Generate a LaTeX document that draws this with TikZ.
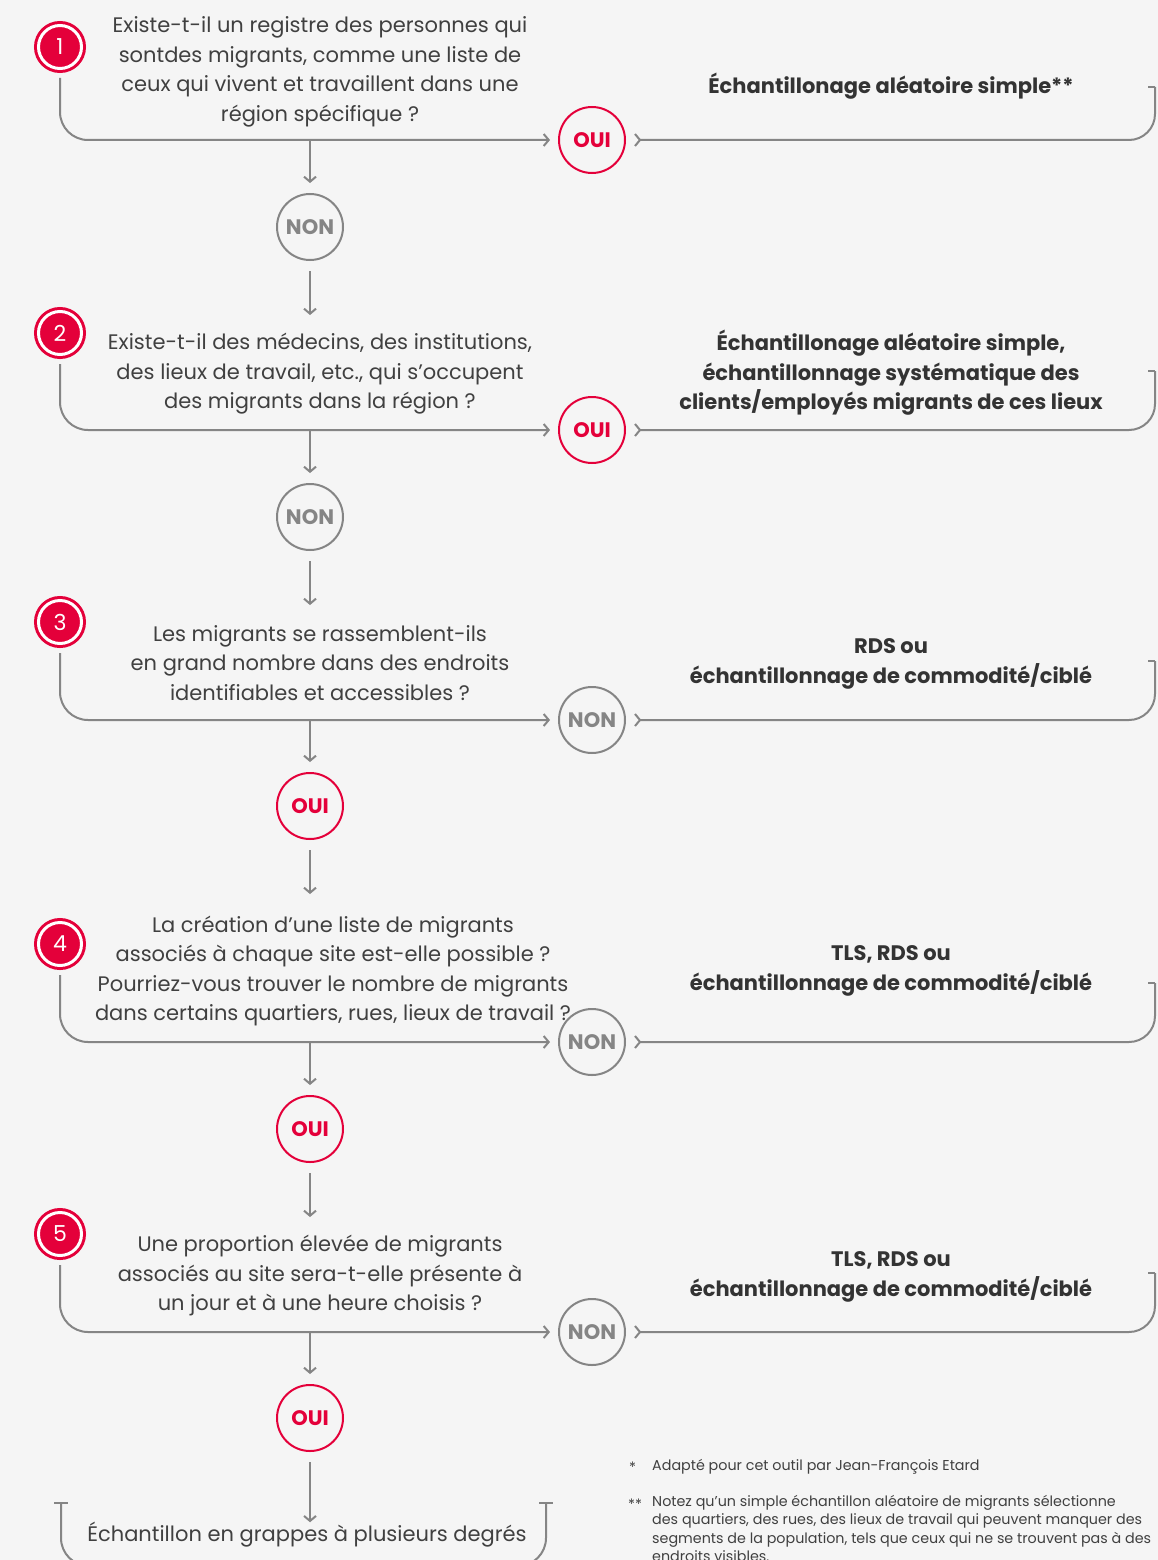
\documentclass[tikz,border=0pt]{standalone}
\usepackage{fontspec}
\setmainfont{Poppins}
\usetikzlibrary{arrows.meta,calc}
\definecolor{bg}{HTML}{F5F5F5}
\definecolor{redc}{HTML}{E4003A}
\definecolor{linec}{HTML}{858585}
\definecolor{txt}{HTML}{404040}
\definecolor{txtb}{HTML}{333333}
\tikzset{
  numc/.style={circle, fill=redc, draw=redc, double=white, double distance=3pt, line width=3pt,
    minimum size=43pt, inner sep=0pt, text=white, font=\fontsize{22}{22}\selectfont},
  yesc/.style={circle, draw=redc, line width=2pt, minimum size=66pt, inner sep=0pt, text=redc,
    font=\bfseries\fontsize{21}{21}\selectfont},
  noc/.style={circle, draw=linec, line width=2pt, minimum size=66pt, inner sep=0pt, text=linec,
    font=\bfseries\fontsize{21}{21}\selectfont},
  qtext/.style={align=center, text=txt, inner sep=0pt, font=\fontsize{21}{29.5}\selectfont},
  rtext/.style={align=center, text=txtb, inner sep=0pt, font=\bfseries\fontsize{21}{29.5}\selectfont},
  fn/.style={align=left, text=txt, inner sep=0pt, font=\fontsize{14.3}{18.5}\selectfont},
  conn/.style={draw=linec, line width=2pt},
  arr/.style={conn, -{Straight Barb[length=5pt,width=12pt]}},
  outc/.style={conn, {Straight Barb[reversed,length=5pt,width=12pt]}-},
}
\begin{document}
\begin{tikzpicture}[x=1pt,y=-1pt]
\fill[bg] (0,0) rectangle (1158,1560);
\useasboundingbox (0,0) rectangle (1158,1560);

% ---------- Row 1
\node[numc] (n1) at (60,47) {1};
\node[qtext] (q1) at (320,72) {Existe-t-il un registre des personnes qui\\sontdes migrants, comme une liste de\\ceux qui vivent et travaillent dans une\\région spécifique ?};
\node[yesc] (c1) at (592,140) {OUI};
\node[rtext] (r1) at (891,86) {Échantillonage aléatoire simple**};
\coordinate (t1) at (1155,87);
\draw[arr, rounded corners=28pt, shorten <=8pt, shorten >=8pt] (n1.south) |- (c1.west);
\draw[outc, rounded corners=26pt] ($(c1.east)+(8,0)$) -| (t1);
\draw[conn] (t1) -- ++(-7,0);
\node[noc] (d1) at (310,227) {NON};
\draw[arr, shorten >=10pt] (d1.north |- c1) -- (d1.north);
\coordinate (e1) at (310,315);
\draw[arr, shorten <=10pt] (d1.south) -- (e1);

% ---------- Row 2
\node[numc] (n2) at (60,333) {2};
\node[qtext] (q2) at (320,374) {Existe-t-il des médecins, des institutions,\\des lieux de travail, etc., qui s’occupent\\des migrants dans la région ?};
\node[yesc] (c2) at (592,430) {OUI};
\node[rtext] (r2) at (891,373) {Échantillonage aléatoire simple,\\échantillonnage systématique des\\clients/employés migrants de ces lieux};
\coordinate (t2) at (1155,371);
\draw[arr, rounded corners=28pt, shorten <=8pt, shorten >=8pt] (n2.south) |- (c2.west);
\draw[outc, rounded corners=26pt] ($(c2.east)+(8,0)$) -| (t2);
\draw[conn] (t2) -- ++(-7,0);
\node[noc] (d2) at (310,517) {NON};
\draw[arr, shorten >=10pt] (d2.north |- c2) -- (d2.north);
\coordinate (e2) at (310,605);
\draw[arr, shorten <=10pt] (d2.south) -- (e2);

% ---------- Row 3
\node[numc] (n3) at (60,622) {3};
\node[qtext] (q3) at (320,663) {Les migrants se rassemblent-ils\\en grand nombre dans des endroits\\identifiables et accessibles ?};
\node[noc] (c3) at (592,720) {NON};
\node[rtext] (r3) at (891,664) {RDS ou\\échantillonnage de commodité/ciblé};
\coordinate (t3) at (1155,661);
\draw[arr, rounded corners=28pt, shorten <=8pt, shorten >=8pt] (n3.south) |- (c3.west);
\draw[outc, rounded corners=26pt] ($(c3.east)+(8,0)$) -| (t3);
\draw[conn] (t3) -- ++(-7,0);
\node[yesc] (d3) at (310,806) {OUI};
\draw[arr, shorten >=10pt] (d3.north |- c3) -- (d3.north);
\coordinate (e3) at (310,894);
\draw[arr, shorten <=10pt] (d3.south) -- (e3);

% ---------- Row 4
\node[numc] (n4) at (60,944) {4};
\node[qtext] (q4) at (333,971) {La création d’une liste de migrants\\associés à chaque site est-elle possible ?\\Pourriez-vous trouver le nombre de migrants\\dans certains quartiers, rues, lieux de travail ?};
\node[noc] (c4) at (592,1042) {NON};
\node[rtext] (r4) at (891,971) {TLS, RDS ou\\échantillonnage de commodité/ciblé};
\coordinate (t4) at (1155,983);
\draw[arr, rounded corners=28pt, shorten <=8pt, shorten >=8pt] (n4.south) |- (c4.west);
\draw[outc, rounded corners=26pt] ($(c4.east)+(8,0)$) -| (t4);
\draw[conn] (t4) -- ++(-7,0);
\node[yesc] (d4) at (310,1129) {OUI};
\draw[arr, shorten >=10pt] (d4.north |- c4) -- (d4.north);
\coordinate (e4) at (310,1217);
\draw[arr, shorten <=10pt] (d4.south) -- (e4);

% ---------- Row 5
\node[numc] (n5) at (60,1234) {5};
\node[qtext] (q5) at (320,1276) {Une proportion élevée de migrants\\associés au site sera-t-elle présente à\\un jour et à une heure choisis ?};
\node[noc] (c5) at (592,1332) {NON};
\node[rtext] (r5) at (891,1277) {TLS, RDS ou\\échantillonnage de commodité/ciblé};
\coordinate (t5) at (1155,1273);
\draw[arr, rounded corners=28pt, shorten <=8pt, shorten >=8pt] (n5.south) |- (c5.west);
\draw[outc, rounded corners=26pt] ($(c5.east)+(8,0)$) -| (t5);
\draw[conn] (t5) -- ++(-7,0);
\node[yesc] (d5) at (310,1418) {OUI};
\draw[arr, shorten >=10pt] (d5.north |- c5) -- (d5.north);

% ---------- Final
\node[qtext] (fin) at (307,1535) {Échantillon en grappes à plusieurs degrés};
\coordinate (fl) at (61,1503);
\coordinate (fr) at (546,1503);
\draw[arr, shorten <=10pt] (d5.south) -- (fin.north -| d5.south);
\draw[conn] ($(fl)+(-7,0)$) -- ($(fl)+(7,0)$);
\draw[conn] ($(fr)+(-7,0)$) -- ($(fr)+(7,0)$);
\draw[conn, rounded corners=28pt] (fl) -- (61,1566) -- (546,1566) -- (fr);

% ---------- Footnotes
\node[fn, anchor=west] (s1) at (629,1467) {*};
\node[fn, anchor=west] (f1) at (652,1467) {Adapté pour cet outil par Jean-François Etard};
\node[fn, anchor=west] (s2) at (628,1504) {**};
\node[fn, anchor=north west] (f2) at (652,1495) {Notez qu’un simple échantillon aléatoire de migrants sélectionne\\des quartiers, des rues, des lieux de travail qui peuvent manquer des\\segments de la population, tels que ceux qui ne se trouvent pas à des\\endroits visibles.};
\end{tikzpicture}
\end{document}
